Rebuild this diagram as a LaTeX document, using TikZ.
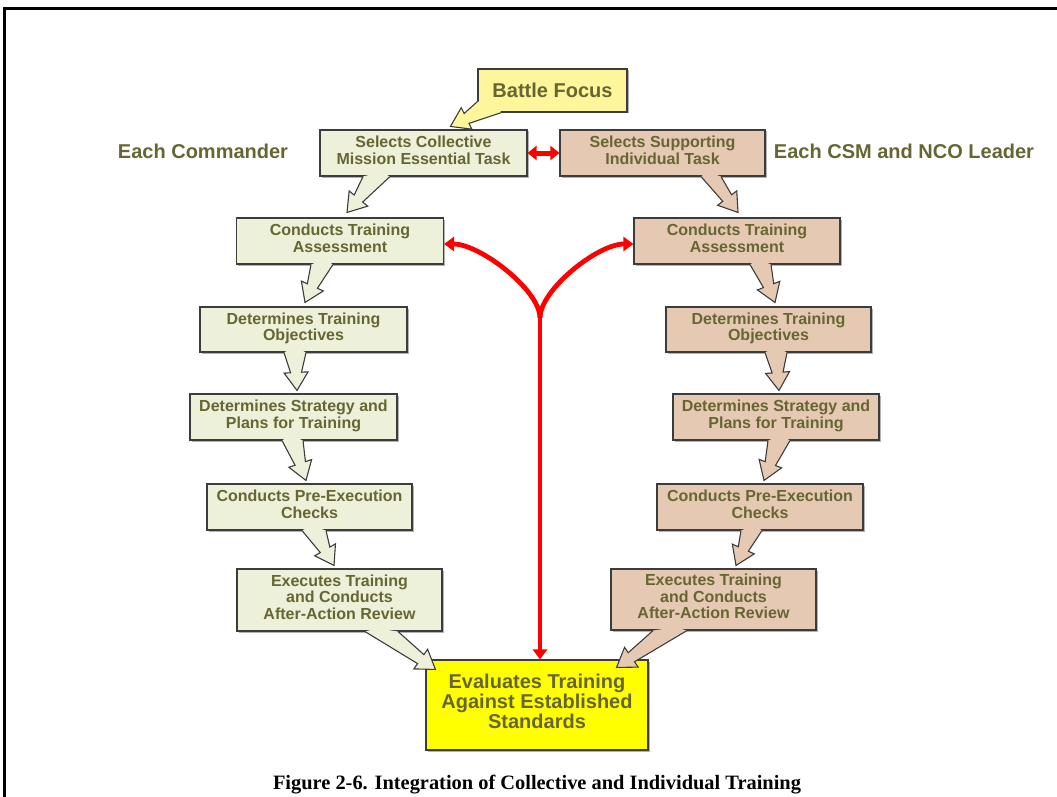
\documentclass[tikz,border=0pt]{standalone}
\usepackage{fontspec}
\setmainfont{Liberation Sans}
\newfontfamily\capfont{Liberation Serif}
\usetikzlibrary{calc,shadows,arrows.meta}

\definecolor{lfill}{RGB}{238,241,217}
\definecolor{rfill}{RGB}{230,201,178}
\definecolor{bffill}{RGB}{255,245,155}
\definecolor{evfill}{RGB}{255,255,0}
\definecolor{txtolive}{RGB}{102,102,51}
\definecolor{boxline}{RGB}{60,60,60}

% Block-arrow tail leaving a box: #1 fill, #2/#3 base points on the box edge, #4 tip
\newcommand\tailarrow[4]{%
  \coordinate (ta) at (#2);
  \coordinate (tb) at (#3);
  \coordinate (tt) at (#4);
  \coordinate (tm) at ($(ta)!0.5!(tb)$);
  \coordinate (th) at ($(tt)!18pt!(tm)$);
  \coordinate (tin) at ($(tm)!-6pt!(tt)$);
  \coordinate (sa) at ($(th)!5.5pt!-90:(tt)$);
  \coordinate (ha) at ($(th)!12pt!-90:(tt)$);
  \coordinate (hb) at ($(th)!12pt!90:(tt)$);
  \coordinate (sb) at ($(th)!5.5pt!90:(tt)$);
  \fill[#1] (ta) -- (sa) -- (ha) -- (tt) -- (hb) -- (sb) -- (tb) -- (tin) -- cycle;
  \draw[tailline] (ta) -- (sa) -- (ha) -- (tt) -- (hb) -- (sb) -- (tb);
}
% extra depth on the last line lifts the text block inside its box
\newcommand\liftby[1]{\rule[-#1]{0pt}{#1}}

\begin{document}
\begin{tikzpicture}[x=1pt,y=-1pt,
  box/.style={draw=boxline, line width=1.1pt, align=center, inner sep=0pt,
    text=txtolive, font=\bfseries\fontsize{16}{16.5}\selectfont,
    drop shadow={shadow xshift=1.5pt, shadow yshift=-1.5pt, fill=black!60}},
  lbox/.style={box, fill=lfill, minimum width=207pt, minimum height=46pt,
    execute at end node={\liftby{6pt}}},
  rbox/.style={box, fill=rfill, minimum width=206pt, minimum height=46pt,
    execute at end node={\liftby{6pt}}},
  bigtext/.style={font=\bfseries\fontsize{20}{20}\selectfont, text=txtolive},
  tailline/.style={draw=boxline, line width=1.1pt, line join=miter},
  redarrow/.style={draw=red, line width=4.8pt, -{Triangle[length=10pt,width=14pt]}},
]
\useasboundingbox (0,0) rectangle (1057,797);
\clip (0,0) rectangle (1057,797);

% page frame
\draw[line width=3pt] (4.5,8.5) rectangle (1080,820);

% left column: commander
\node[lbox] (L1) at (423.5,153) {Selects Collective\\Mission Essential Task};
\node[lbox] (L2) at (340,241) {Conducts Training\\Assessment};
\node[lbox, minimum height=45pt] (L3) at (303.5,329.5) {Determines Training\\Objectives};
\node[lbox] (L4) at (293.5,417) {Determines Strategy and\\Plans for Training};
\node[lbox, minimum width=205pt] (L5) at (309.5,507) {Conducts Pre-Execution\\Checks};
\node[lbox, minimum width=205pt, minimum height=62pt] (L6) at (339.5,600) {Executes Training\\and Conducts\\After-Action Review};

% right column: CSM and NCO leader
\node[rbox, minimum width=205pt] (R1) at (662.5,153) {Selects Supporting\\Individual Task};
\node[rbox] (R2) at (737,241) {Conducts Training\\Assessment};
\node[rbox, minimum width=205pt, minimum height=45pt] (R3) at (768.5,329.5) {Determines Training\\Objectives};
\node[rbox] (R4) at (776,417) {Determines Strategy and\\Plans for Training};
\node[rbox] (R5) at (760,507) {Conducts Pre-Execution\\Checks};
\node[rbox, minimum width=205pt, minimum height=61pt] (R6) at (713.5,599.5) {Executes Training\\and Conducts\\After-Action Review};

% evaluation and battle focus
\node[box, fill=evfill, minimum width=222pt, minimum height=90pt,
  font=\bfseries\fontsize{20}{20}\selectfont, execute at end node={\liftby{8pt}}] (EV) at (537,705)
  {Evaluates Training\\Against Established\\Standards};
\node[box, fill=bffill, minimum width=149pt, minimum height=43pt,
  font=\bfseries\fontsize{20}{24}\selectfont] (BF) at (552.5,90.5) {Battle Focus};

% column headings
\node[bigtext] (EC) at (203,151) {Each Commander};
\node[bigtext] (EN) at (904,151) {Each CSM and NCO Leader};

% block-arrow tails
\tailarrow{bffill}{$(BF.south west)+(0,-11)$}{$(BF.south west)+(24,0)$}{$(L1.north west)+(131,-3)$}

\tailarrow{lfill}{$(L1.south)+(-60.5,0)$}{$(L1.south)+(-33.5,0)$}{$(L2.north)+(7,-5)$}
\tailarrow{lfill}{$(L2.south)+(-29,0)$}{$(L2.south)+(-7,0)$}{$(L3.north)+(1.5,-4)$}
\tailarrow{lfill}{$(L3.south)+(-19.5,0)$}{$(L3.south)+(2.5,0)$}{$(L4.north)+(3.5,-3)$}
\tailarrow{lfill}{$(L4.south)+(-11.5,0)$}{$(L4.south)+(9.5,0)$}{$(L5.north)+(-3.5,-3)$}
\tailarrow{lfill}{$(L5.south)+(-7.5,0)$}{$(L5.south)+(16.5,0)$}{$(L6.north)+(-5.5,-3)$}
\tailarrow{lfill}{$(L6.south)+(25.5,0)$}{$(L6.south)+(58.5,0)$}{$(EV.north west)+(10,10)$}

\tailarrow{rfill}{$(R1.south)+(38.5,0)$}{$(R1.south)+(58.5,0)$}{$(R2.north)+(1,-5)$}
\tailarrow{rfill}{$(R2.south)+(13,0)$}{$(R2.south)+(34,0)$}{$(R3.north)+(6.5,-4)$}
\tailarrow{rfill}{$(R3.south)+(-3.5,0)$}{$(R3.south)+(18.5,0)$}{$(R4.north)+(3,-3)$}
\tailarrow{rfill}{$(R4.south)+(-8,0)$}{$(R4.south)+(14,0)$}{$(R5.north)+(4,-3)$}
\tailarrow{rfill}{$(R5.south)+(-19,0)$}{$(R5.south)+(2,0)$}{$(R6.north)+(22.5,-3)$}
\tailarrow{rfill}{$(R6.south)+(-60.5,0)$}{$(R6.south)+(-26.5,0)$}{$(EV.north east)+(-32,8)$}

% red links
\draw[draw=red, line width=5pt,
  {Triangle[length=9pt,width=14pt]}-{Triangle[length=9pt,width=14pt]}] (L1.east) -- (R1.west);
\coordinate (J) at (540,318);
\draw[redarrow] (J) -- (J |- EV.north);
\draw[redarrow] (J) .. controls +(0,-28) and +(36,0) .. ($(L2.east)+(0,3)$);
\draw[redarrow] (J) .. controls +(0,-28) and +(-36,0) .. ($(R2.west)+(0,3)$);

% caption
\node[font=\capfont\bfseries\fontsize{20.4}{24}\selectfont] (CAP) at (537,785)
  {Figure 2-6. Integration of Collective and Individual Training};
\end{tikzpicture}
\end{document}
